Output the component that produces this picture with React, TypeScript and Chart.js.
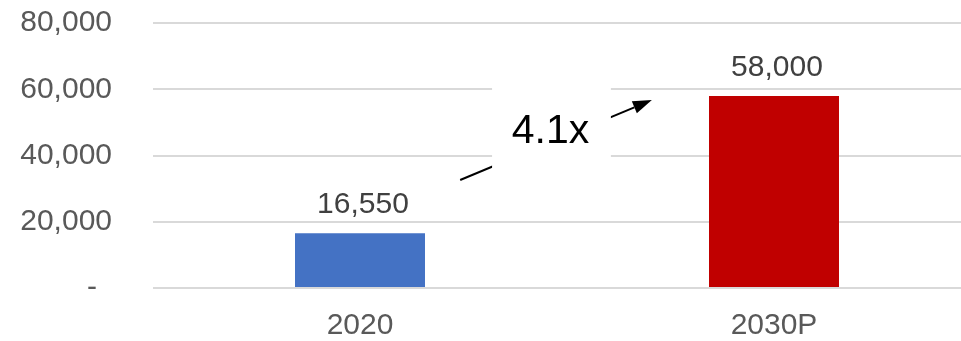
import React, { useEffect, useRef } from "react";
import { Chart, registerables } from "chart.js";

Chart.register(...registerables);

const categories = ["2020", "2030P"];
const values = [16550, 58000];
const barColors = ["#4472C4", "#C00000"];
const yTicks = [0, 20000, 40000, 60000, 80000];
const growthLabel = "4.1x";

const FONT = "'Liberation Sans', Arial, sans-serif";

const fmt = (v: number) => (v === 0 ? "-\u2002" : v.toLocaleString("en-US"));

const dataLabelPlugin = {
  id: "dataLabels",
  afterDatasetsDraw(chart: any) {
    const ctx = chart.ctx;
    const meta = chart.getDatasetMeta(0);
    ctx.save();
    ctx.font = `30px ${FONT}`;
    ctx.fillStyle = "#404040";
    ctx.textAlign = "center";
    ctx.textBaseline = "alphabetic";
    meta.data.forEach((bar: any, i: number) => {
      ctx.fillText(fmt(values[i]), bar.x + 3, bar.y - 20);
    });
    ctx.restore();
  },
};

const arrowPlugin = {
  id: "growthArrow",
  afterDatasetsDraw(chart: any) {
    const ctx = chart.ctx;
    const xs = chart.scales.x;
    const ys = chart.scales.y;
    const x1 = xs.getPixelForValue(0.242);
    const y1 = ys.getPixelForValue(32600);
    const x2 = xs.getPixelForValue(0.705);
    const y2 = ys.getPixelForValue(56750);
    const ang = Math.atan2(y2 - y1, x2 - x1);
    const headLen = 19;
    const headHalf = 6.5;
    ctx.save();
    ctx.strokeStyle = "#000";
    ctx.fillStyle = "#000";
    ctx.lineWidth = 2;
    ctx.beginPath();
    ctx.moveTo(x1, y1);
    ctx.lineTo(x2 - headLen * Math.cos(ang), y2 - headLen * Math.sin(ang));
    ctx.stroke();
    const bx = x2 - headLen * Math.cos(ang);
    const by = y2 - headLen * Math.sin(ang);
    ctx.beginPath();
    ctx.moveTo(x2, y2);
    ctx.lineTo(bx + headHalf * Math.sin(ang), by - headHalf * Math.cos(ang));
    ctx.lineTo(bx - headHalf * Math.sin(ang), by + headHalf * Math.cos(ang));
    ctx.closePath();
    ctx.fill();
    const bl = xs.getPixelForValue(0.319);
    const br = xs.getPixelForValue(0.606);
    const bt = ys.getPixelForValue(62800);
    const bb = ys.getPixelForValue(35600);
    ctx.fillStyle = "#ffffff";
    ctx.fillRect(bl, bt, br - bl, bb - bt);
    ctx.fillStyle = "#000";
    ctx.font = `41px ${FONT}`;
    ctx.textAlign = "center";
    ctx.textBaseline = "alphabetic";
    ctx.fillText(growthLabel, xs.getPixelForValue(0.46), ys.getPixelForValue(43800));
    ctx.restore();
  },
};

export default function App() {
  const ref = useRef<HTMLCanvasElement>(null);
  useEffect(() => {
    if (!ref.current) return;
    const chart = new Chart(ref.current, {
      type: "bar",
      data: {
        labels: categories,
        datasets: [
          {
            data: values,
            backgroundColor: barColors,
            categoryPercentage: 1,
            barPercentage: 0.314,
          },
        ],
      },
      options: {
        animation: false,
        responsive: false,
        maintainAspectRatio: false,
        layout: { padding: { top: 23, right: 0, bottom: 0, left: 0 } },
        plugins: {
          legend: { display: false },
          tooltip: { enabled: false },
        },
        scales: {
          x: {
            grid: { display: false, drawTicks: false },
            border: { display: false },
            ticks: {
              color: "#595959",
              font: { family: FONT, size: 30 },
              padding: 20,
            },
            afterFit(scale: any) {
              scale.height = 53;
              scale.paddingLeft = 0;
              scale.paddingRight = 0;
            },
          },
          y: {
            min: 0,
            max: 80000,
            afterBuildTicks(scale: any) {
              scale.ticks = yTicks.map((v) => ({ value: v }));
            },
            grid: { color: "#d9d9d9", lineWidth: 2, drawTicks: false },
            border: { display: false },
            ticks: {
              color: "#595959",
              font: { family: FONT, size: 30 },
              padding: 41,
              callback: (v: any) => fmt(Number(v)),
            },
            afterFit(scale: any) {
              scale.width = 153;
              scale.paddingTop = 0;
              scale.paddingBottom = 0;
            },
          },
        },
      },
      plugins: [dataLabelPlugin, arrowPlugin],
    });
    return () => chart.destroy();
  }, []);
  return (
    <div
      style={{
        position: "absolute",
        left: 0,
        top: 0,
        width: 961,
        height: 341,
        overflow: "hidden",
        background: "#fff",
      }}
    >
      <canvas ref={ref} width={981} height={341} style={{ display: "block" }} />
    </div>
  );
}
